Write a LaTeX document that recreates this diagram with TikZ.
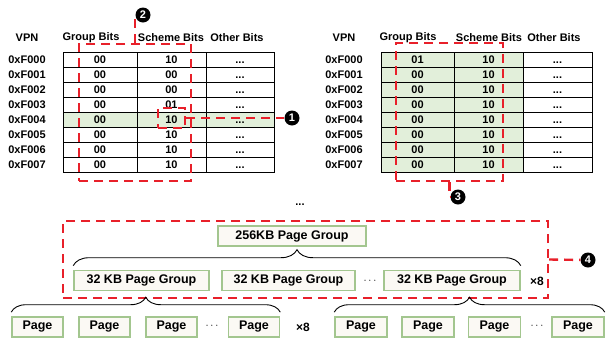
\documentclass[tikz,border=0pt]{standalone}
\usepackage{fontspec}
\setmainfont{Liberation Sans}
\usetikzlibrary{decorations.pathreplacing}
\definecolor{cellgreen}{HTML}{E2EFDA}
\definecolor{boxgreen}{HTML}{A3C68F}
\definecolor{boxfill}{HTML}{FBF9F4}
\definecolor{markred}{HTML}{E8202A}

\begin{document}
\begin{tikzpicture}[x=1pt, y=-1pt,
    cell/.style ={draw, line width=1pt, minimum height=15, inner sep=0pt, text height=8pt, text depth=1pt,
                  font=\fontsize{11}{12}\selectfont\bfseries},
    label/.style ={inner sep=0pt, font=\fontsize{11}{12}\selectfont\bfseries},
    pagebox/.style ={draw=boxgreen, fill=boxfill, line width=1.6pt, minimum height=20, inner sep=0pt,
                  font=\fontsize{12.5}{14}\selectfont\bfseries},
    marker/.style ={circle, fill=black, text=white, inner sep=0pt, minimum size=15,
                  font=\fontsize{11}{11}\selectfont\bfseries},
    reddash/.style ={draw=markred, line width=2.4pt, dash pattern=on 9pt off 6pt, inner sep=0pt},
    grpbrace/.style ={decorate, decoration={brace, amplitude=#1}, line width=0.9pt}]
   \useasboundingbox (0,0) rectangle (606,338);

   % left table
   \fill[cellgreen] (63,112) rectangle (274,127);
   \node[label] (lvh) at (27,38)  {VPN};
   \node[label] (lgh) at (91,38)  {Group Bits};
   \node[label] (lsh) at (171,38) {Scheme Bits};
   \node[label] (loh) at (237,38) {Other Bits};
   \foreach \vpn/\grp/\sch [count=\i from 0] in {0xF000/00/10, 0xF001/00/00, 0xF002/00/00, 0xF003/00/01,
                                                 0xF004/00/10, 0xF005/00/10, 0xF006/00/10, 0xF007/00/10} {
     \node[label] (lv\i) at (27,59.5+15*\i) {\vpn};
     \node[cell, minimum width=74] (lg\i) at (100,59.5+15*\i)   {\grp};
     \node[cell, minimum width=69] (ls\i) at (171.5,59.5+15*\i) {\sch};
     \node[cell, minimum width=68] (lo\i) at (240,59.5+15*\i)   {...};
   }

   % right table
   \fill[cellgreen] (381,52) rectangle (523,172);
   \node[label] (rvh) at (344,38) {VPN};
   \node[label] (rgh) at (408,38) {Group Bits};
   \node[label] (rsh) at (489,38) {Scheme Bits};
   \node[label] (roh) at (554,38) {Other Bits};
   \foreach \vpn/\grp/\sch [count=\i from 0] in {0xF000/01/10, 0xF001/00/10, 0xF002/00/10, 0xF003/00/10,
                                                 0xF004/00/10, 0xF005/00/10, 0xF006/00/10, 0xF007/00/10} {
     \node[label] (rv\i) at (344,59.5+15*\i) {\vpn};
     \node[cell, minimum width=73] (rg\i) at (417.5,59.5+15*\i) {\grp};
     \node[cell, minimum width=69] (rs\i) at (488.5,59.5+15*\i) {\sch};
     \node[cell, minimum width=69] (ro\i) at (557.5,59.5+15*\i) {...};
   }

   % markers
   \node[reddash, minimum width=27, minimum height=20] (sel) at (171.5,118) {};
   \node[reddash, minimum width=112, minimum height=137] (box2) at (135,112.5) {};
   \node[reddash, minimum width=107, minimum height=138] (box3) at (449.5,112) {};
   \node[reddash, minimum width=485, minimum height=77] (box4) at (305.5,259.5) {};
   \node[marker] (m1) at (292,118) {1};
   \node[marker] (m2) at (143,15)  {2};
   \node[marker] (m3) at (458,197) {3};
   \node[marker] (m4) at (588,260) {4};
   \draw[reddash] (sel.east) -- (m1);
   \draw[reddash] (box2.north) |- (m2);
   \draw[reddash] (box3.south) |- (m3);
   \draw[reddash] (box4.east) -- (m4);

   % page groups
   \node[label] (dtop) at (300,205) {...};
   \node[pagebox, minimum width=148] (g256) at (292,236) {256KB Page Group};
   \node[pagebox, minimum width=135] (g1) at (141.5,280.5) {32 KB Page Group};
   \node[pagebox, minimum width=133] (g2) at (288.5,280.5) {32 KB Page Group};
   \node[pagebox, minimum width=136] (g3) at (452,280.5) {32 KB Page Group};
   \node[label] (gdots) at (370,281) {$\cdots$};
   \node[label, font=\fontsize{12}{14}\selectfont\bfseries] (gx8) at (537,281) {×8};
   \foreach \x [count=\i] in {37.5,104.5,171.5,254}
     \node[pagebox, minimum width=51] (p\i) at (\x,327) {Page};
   \foreach \x [count=\i] in {361,428,494.5,578}
     \node[pagebox, minimum width=52] (q\i) at (\x,327) {Page};
   \node[label] (pdots) at (212,326) {$\cdots$};
   \node[label] (qdots) at (537,326) {$\cdots$};
   \node[label, font=\fontsize{12}{14}\selectfont\bfseries] (px8) at (303,327) {×8};
   \draw[grpbrace=16pt] ([yshift=4pt]g1.north west) -- ([yshift=4pt]g3.north east);
   \draw[grpbrace=15pt] ([yshift=4pt]p1.north west) -- ([yshift=4pt]p4.north east);
   \draw[grpbrace=15pt] ([yshift=4pt]q1.north west) -- ([yshift=4pt]q4.north east);
 \end{tikzpicture}
\end{document}
